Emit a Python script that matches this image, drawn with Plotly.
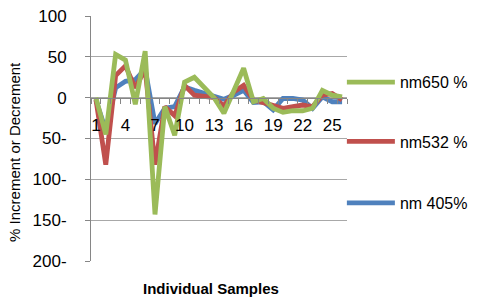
import plotly.graph_objects as go

samples = list(range(1, 27))
nm650 = [0, -45, 53, 46, -8, 57, -143, -11, -46, 19, 25, 12, 0, -19, 10, 36, -5, -1, -13, -18, -16, -16, -13, 9, 3, 1]
nm532 = [-2, -82, 27, 39, 12, 35, -82, -11, -22, 15, 3, 2, 0, -10, 7, 15, -3, -6, -9, -13, -11, -9, -11, 3, 5, -3]
nm405 = [-3, -40, 12, 20, 22, 35, -32, -13, -11, 13, 9, 5, 2, -2, 3, 9, -6, -5, -15, -1, -1, -3, -13, 1, -5, -5]

x_tickvals = [1, 4, 7, 10, 13, 16, 19, 22, 25]
x_ticktext = ["1", "4", "7", "10", "13", "16", "19", "22", "25"]
y_tickvals = [100, 50, 0, -50, -100, -150, -200]
y_ticktext = ["100", "50", "0", "50-", "100-", "150-", "200-"]

FONT = "Liberation Sans, Arial, sans-serif"
GRID = "#A8A8A8"

fig = go.Figure()
fig.add_trace(go.Scatter(x=samples, y=nm405, mode="lines", name="nm 405%",
                         line=dict(color="#4F81BD", width=4.8), legend="legend3"))
fig.add_trace(go.Scatter(x=samples, y=nm532, mode="lines", name="nm532 %",
                         line=dict(color="#C0504D", width=4.8), legend="legend2"))
fig.add_trace(go.Scatter(x=samples, y=nm650, mode="lines", name="nm650 %",
                         line=dict(color="#9BBB59", width=4.8), legend="legend"))

leg_common = dict(xanchor="left", yanchor="middle", font=dict(family=FONT, size=16, color="#000"),
                  bgcolor="rgba(0,0,0,0)", itemwidth=48)
fig.update_layout(
    width=477, height=297,
    margin=dict(l=91, r=130, t=16, b=36, autoexpand=False),
    paper_bgcolor="white", plot_bgcolor="white",
    font=dict(family=FONT, color="#000"),
    showlegend=True,
    legend=dict(x=0.98, y=0.73, **leg_common),
    legend2=dict(x=0.98, y=0.488, **leg_common),
    legend3=dict(x=0.98, y=0.237, **leg_common),
    xaxis=dict(range=[0.5, 26.5], tickvals=x_tickvals, ticktext=x_ticktext,
               showgrid=False, zeroline=False, showline=True, linecolor="#868686",
               anchor="free", position=2/3, ticks="", ticklabelstandoff=12,
               tickfont=dict(family=FONT, size=17, color="#000"),
               minor=dict(tick0=0.5, dtick=1, ticks="outside", ticklen=5, tickcolor="#868686", showgrid=False)),
    yaxis=dict(range=[-200, 100], tickvals=y_tickvals, ticktext=y_ticktext,
               showgrid=True, gridcolor=GRID, gridwidth=1, zeroline=False,
               showline=True, linecolor="#868686", ticks="outside", ticklen=5, tickcolor="#868686",
               ticklabelstandoff=15, tickfont=dict(family=FONT, size=17, color="#000")),
    annotations=[
        dict(text="% Increment or Decrement", xref="paper", yref="paper", x=-0.297, y=0.445,
             textangle=-90, showarrow=False, font=dict(family=FONT, size=15, color="#000"),
             xanchor="center", yanchor="middle"),
        dict(text="<b>Individual Samples</b>", xref="paper", yref="paper", x=0.469, y=-0.112,
             showarrow=False, font=dict(family=FONT, size=15, color="#000"),
             xanchor="center", yanchor="middle"),
    ],
)

fig.write_html("out.html", config={"displayModeBar": False},
               post_script="document.body.style.margin='0';document.body.style.overflow='hidden';")
